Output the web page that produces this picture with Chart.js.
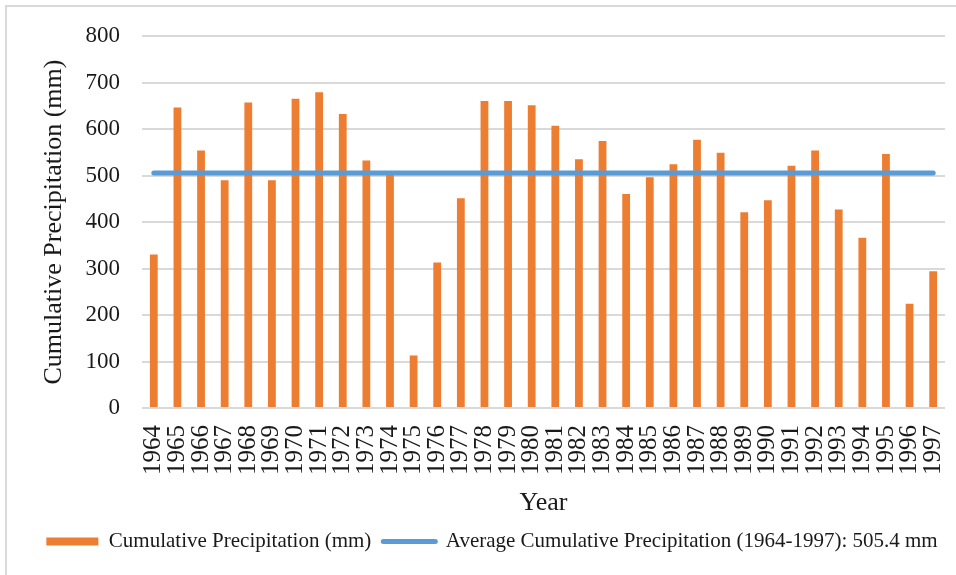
<!DOCTYPE html>
<meta charset="utf-8">
<html lang="en">
<head>
  <title>cumulative precipitation</title>
  <style type="text/css">
  body { margin: 0; background: #ffffff; overflow: hidden; }
  #frame { position: absolute; left: 5px; top: 5px; width: 1000px; height: 1000px; border: 2px solid #d9d9d9; }
  #wrap { position: absolute; left: 0; top: 0; width: 956px; height: 575px; }
  </style>
</head>
<body>
<div id="frame"></div>
<div id="wrap">
  <canvas id="myChart"></canvas>
</div>

<script src="https://cdn.jsdelivr.net/npm/chart.js"></script>

<script>
  const years = ['1964','1965','1966','1967','1968','1969','1970','1971','1972','1973','1974',
    '1975','1976','1977','1978','1979','1980','1981','1982','1983','1984','1985','1986',
    '1987','1988','1989','1990','1991','1992','1993','1994','1995','1996','1997'];
  const precip = [330, 646, 554, 490, 657, 490, 665, 679, 632, 532, 503,
    113, 313, 451, 660, 660, 651, 607, 535, 574, 460, 496, 524,
    577, 549, 421, 447, 521, 554, 427, 366, 546, 224, 294];
  const avgValue = 505.4;
  const avgLine = years.map(() => avgValue);
  const yTicks = [0, 100, 200, 300, 400, 500, 600, 700, 800];

  const SERIF = '"Liberation Serif", "Times New Roman", serif';
  const ctx = document.getElementById('myChart');

  const our_chart = new Chart(ctx, {
    data: {
      labels: years,
      datasets: [{
        type: 'line',
        label: 'Average Cumulative Precipitation (1964-1997): 505.4 mm',
        data: avgLine,
        borderColor: '#5b9bd5',
        backgroundColor: '#5b9bd5',
        borderWidth: 5,
        borderCapStyle: 'round',
        pointRadius: 0,
        order: 0
      }, {
        type: 'bar',
        label: 'Cumulative Precipitation (mm)',
        data: precip,
        backgroundColor: '#ed7d31',
        borderWidth: 0,
        categoryPercentage: 1.0,
        barPercentage: 0.33,
        order: 1
      }]
    },
    options: {
      responsive: true,
      maintainAspectRatio: false,
      animation: false,
      layout: {padding: {left: 28, right: 0, top: 36, bottom: 13}},
      plugins: {
        tooltip: {enabled: false},
        legend: {
          position: 'bottom',
          labels: {
            color: '#1a1a1a',
            font: {family: SERIF, size: 21},
            usePointStyle: true,
            pointStyleWidth: 52,
            boxHeight: 8,
            padding: 12,
            generateLabels: (chart) => {
              const ds = chart.data.datasets;
              return [1, 0].map(i => ({
                text: ds[i].label,
                datasetIndex: i,
                fillStyle: i === 1 ? '#ed7d31' : '#5b9bd5',
                strokeStyle: i === 1 ? '#ed7d31' : '#5b9bd5',
                lineWidth: i === 1 ? 0 : 5,
                lineCap: 'round',
                pointStyle: i === 1 ? 'rect' : 'line',
                fontColor: '#1a1a1a',
                hidden: false
              }));
            }
          }
        }
      },
      scales: {
        x: {
          grid: {display: false},
          border: {display: false},
          afterFit: (axis) => {
            axis.height = 111;
            axis.paddingRight = 11;
          },
          ticks: {
            color: '#1a1a1a',
            font: {family: SERIF, size: 25},
            minRotation: 90, maxRotation: 90,
            autoSkip: false,
            padding: 9
          },
          title: {
            display: true, text: 'Year', color: '#1a1a1a',
            font: {family: SERIF, size: 26},
            padding: {top: 4, bottom: 0}
          }
        },
        y: {
          min: 0, max: 800,
          afterBuildTicks: (axis) => { axis.ticks = yTicks.map(v => ({value: v})); },
          afterFit: (axis) => { axis.width = 114; },
          grid: {color: '#d9d9d9', lineWidth: 2, drawTicks: false},
          border: {display: false},
          ticks: {
            color: '#1a1a1a',
            font: {family: SERIF, size: 23},
            padding: 22
          },
          title: {
            display: true, text: 'Cumulative Precipitation (mm)', color: '#1a1a1a',
            font: {family: SERIF, size: 26},
            padding: {top: 11, bottom: 0}
          }
        }
      }
    }
  });
</script>
</body>
</html>
